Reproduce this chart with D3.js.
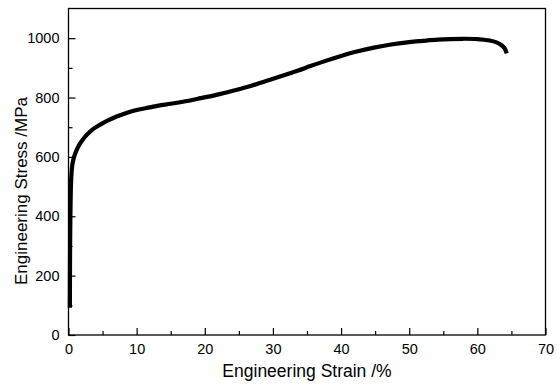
<!DOCTYPE html>
<html>
<head>
<meta charset="utf-8">
<script src="https://cdn.jsdelivr.net/npm/d3@7/dist/d3.min.js"></script>
<style>
  html, body { margin: 0; padding: 0; background: #fff; }
  svg { display: block; }
  text { font-family: "Liberation Sans", Arial, sans-serif; fill: #000; }
</style>
</head>
<body>
<svg id="chart" width="557" height="384"></svg>
<script>
// Engineering stress-strain curve data
const strain = [0.20, 0.21, 0.23, 0.26, 0.30, 0.34, 0.37, 0.45, 0.55, 0.70, 1.0, 1.44, 2.0, 2.67, 3.5, 4.6, 5.8, 7.07, 8.5, 10.0, 11.95, 13.2, 15.0, 16.8, 19.0, 21.7, 24.0, 26.6, 29.0, 31.5, 33.7, 35.5, 37.4, 40.0, 42.3, 45.0, 47.1, 50.0, 52.0, 54.2, 56.0, 57.9, 60.0, 61.8, 62.8, 63.5, 64.0, 64.3];
const stress = [92, 180, 280, 370, 440, 490, 512, 548, 572, 590, 612, 635, 655, 674, 692, 708, 723, 736, 748, 758, 767, 773, 779, 786, 796, 809, 822, 838, 856, 874, 891, 906, 921, 940, 955, 969, 978, 987, 991, 995, 997, 998, 997, 992, 986, 977, 966, 949];

const xTicks = [0, 10, 20, 30, 40, 50, 60, 70];
const xMinor = [5, 15, 25, 35, 45, 55, 65];
const yTicks = [0, 200, 400, 600, 800, 1000];
const yMinor = [100, 300, 500, 700, 900];

const xTitle = "Engineering Strain /%";
const yTitle = "Engineering Stress /MPa";

const svg = d3.select("#chart");
const m = { left: 68.5, right: 545.5, top: 8.5, bottom: 335 };

const x = d3.scaleLinear().domain([0, 70]).range([m.left, m.right]);
const y = d3.scaleLinear().domain([0, 1100]).range([m.bottom, m.top]);

// frame
svg.append("rect")
  .attr("x", m.left).attr("y", m.top)
  .attr("width", m.right - m.left).attr("height", m.bottom - m.top)
  .attr("fill", "none").attr("stroke", "#000").attr("stroke-width", 1.3);

// x axis (ticks inward)
const xAxis = d3.axisBottom(x).tickValues(xTicks).tickSize(-7).tickPadding(9).tickFormat(d3.format("d"));
const gx = svg.append("g").attr("transform", `translate(0,${m.bottom})`).call(xAxis);
gx.select(".domain").remove();
gx.selectAll(".tick line").attr("stroke", "#000").attr("stroke-width", 1.2);
gx.selectAll(".tick text").style("font-size", "14.5px").style("font-family", "Liberation Sans, Arial, sans-serif").attr("fill", "#000");

const gxm = svg.append("g").attr("transform", `translate(0,${m.bottom})`)
  .call(d3.axisBottom(x).tickValues(xMinor).tickSize(-4).tickFormat(""));
gxm.select(".domain").remove();
gxm.selectAll(".tick line").attr("stroke", "#000").attr("stroke-width", 1.2);

// y axis (ticks inward)
const yAxis = d3.axisLeft(y).tickValues(yTicks).tickSize(-7).tickPadding(9).tickFormat(d3.format("d"));
const gy = svg.append("g").attr("transform", `translate(${m.left},0)`).call(yAxis);
gy.select(".domain").remove();
gy.selectAll(".tick line").attr("stroke", "#000").attr("stroke-width", 1.2);
gy.selectAll(".tick text").style("font-size", "14.5px").style("font-family", "Liberation Sans, Arial, sans-serif").attr("fill", "#000");

const gym = svg.append("g").attr("transform", `translate(${m.left},0)`)
  .call(d3.axisLeft(y).tickValues(yMinor).tickSize(-4).tickFormat(""));
gym.select(".domain").remove();
gym.selectAll(".tick line").attr("stroke", "#000").attr("stroke-width", 1.2);

// curve
const pts = strain.map((s, i) => [s, stress[i]]);
svg.append("path")
  .datum(pts)
  .attr("fill", "none")
  .attr("stroke", "#000")
  .attr("stroke-width", 4.2)
  .attr("stroke-linejoin", "round")
  .attr("stroke-linecap", "butt")
  .attr("d", d3.line().x(d => x(d[0])).y(d => y(d[1])).curve(d3.curveCatmullRom));

// titles
svg.append("text")
  .attr("x", (m.left + m.right) / 2)
  .attr("y", 377)
  .attr("text-anchor", "middle")
  .style("font-size", "17.5px")
  .text(xTitle);

svg.append("text")
  .attr("transform", `translate(27,191) rotate(-90)`)
  .attr("text-anchor", "middle")
  .style("font-size", "17px")
  .text(yTitle);
</script>
</body>
</html>
